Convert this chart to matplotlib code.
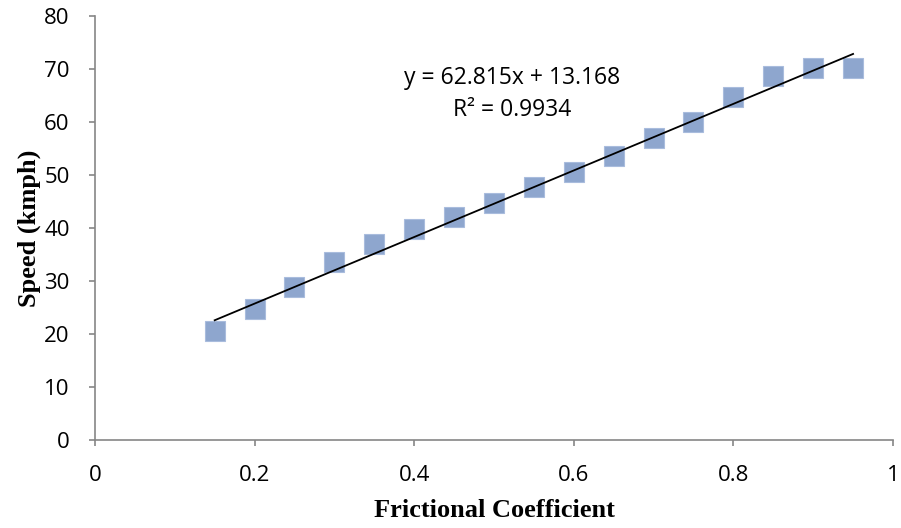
import matplotlib
matplotlib.use("Agg")
import matplotlib.pyplot as plt
import numpy as np

# Measured speed at each frictional coefficient
friction = [0.15, 0.20, 0.25, 0.30, 0.35, 0.40, 0.45, 0.50, 0.55,
            0.60, 0.65, 0.70, 0.75, 0.80, 0.85, 0.90, 0.95]
speed = [20.6, 24.7, 28.9, 33.6, 36.9, 39.8, 42.0, 44.7, 47.7,
         50.6, 53.6, 57.0, 60.0, 64.7, 68.6, 70.1, 70.1]

# Linear trendline coefficients
slope = 62.815
intercept = 13.168
r_squared = 0.9934

x_ticks = [0, 0.2, 0.4, 0.6, 0.8, 1]
x_tick_labels = ["0", "0.2", "0.4", "0.6", "0.8", "1"]
y_ticks = [0, 10, 20, 30, 40, 50, 60, 70, 80]

fig = plt.figure(figsize=(9.01, 5.28), dpi=100)
ax = fig.add_axes([0.1054, 0.1667, 0.8857, 0.803])

axis_color = "#868686"
ax.plot(friction, speed, linestyle="none", marker="s", markersize=14,
        markerfacecolor="#8EA6CE", markeredgecolor="#A9BCDD",
        markeredgewidth=0.8, zorder=2)

fit_x = np.array([min(friction), max(friction)])
ax.plot(fit_x, slope * fit_x + intercept, color="black", linewidth=1.3, zorder=3)

ax.text(0.5226, 68.3, f"y = {slope}x + {intercept}", ha="center", va="center",
        fontsize=16.5, family="Open Sans")
ax.text(0.5226, 62.2, f"R² = {r_squared}", ha="center", va="center",
        fontsize=16.5, family="Open Sans")

ax.set_xlim(0, 1)
ax.set_ylim(0, 80)
ax.set_xticks(x_ticks)
ax.set_xticklabels(x_tick_labels)
ax.set_yticks(y_ticks)

for side in ("top", "right"):
    ax.spines[side].set_visible(False)
for side in ("left", "bottom"):
    ax.spines[side].set_color(axis_color)
    ax.spines[side].set_linewidth(1.2)

ax.tick_params(axis="both", direction="out", length=4.3, width=1.2,
               color=axis_color, labelsize=16, pad=14)
for lbl in ax.get_xticklabels() + ax.get_yticklabels():
    lbl.set_family("Open Sans")

ax.set_xlabel("Frictional Coefficient", family="Liberation Serif",
              fontweight="bold", fontsize=19, labelpad=9)
ax.set_ylabel("Speed (kmph)", family="Liberation Serif",
              fontweight="bold", fontsize=19, labelpad=2)

fig.savefig("out.png", dpi=100)
